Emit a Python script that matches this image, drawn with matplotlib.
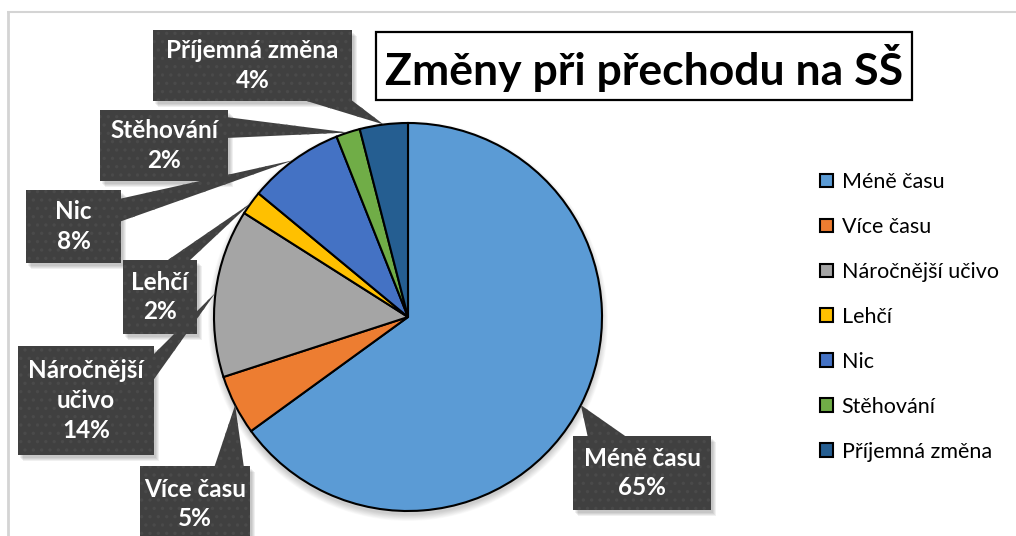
import matplotlib
matplotlib.use("Agg")
import matplotlib.pyplot as plt
import numpy as np
from matplotlib.patches import Rectangle, Polygon, Circle

# ---- data ----
categories = ["Méně času", "Více času", "Náročnější učivo", "Lehčí", "Nic", "Stěhování", "Příjemná změna"]
values = [65, 5, 14, 2, 8, 2, 4]
label_texts = ["Méně času\n65%", "Více času\n5%", "Náročnější\nučivo\n14%", "Lehčí\n2%", "Nic\n8%", "Stěhování\n2%", "Příjemná změna\n4%"]
colors = ["#5B9BD5", "#ED7D31", "#A5A5A5", "#FFC000", "#4472C4", "#70AD47", "#255E91"]
title = "Změny při přechodu na SŠ"

# ---- layout (pixel coordinates, y downwards) ----
W, H = 1016, 536
cx, cy, R = 408, 317, 194
boxes = [
    ((573, 436, 711, 510), ("top", 588, 628)),
    ((140, 466, 250, 545), ("top", 214, 244)),
    ((18, 346, 154, 455), ("right", 356, 382)),
    ((123, 260, 197, 334), ("top", 165, 188)),
    ((26, 190, 121, 263), ("right", 199, 222)),
    ((100, 110, 228, 181), ("right", 117, 138)),
    ((153, 30, 352, 101), ("bottom", 300, 350)),
]

font = ["Lato", "DejaVu Sans"]
plt.rcParams["hatch.linewidth"] = 1.2

fig = plt.figure(figsize=(W / 100, H / 100), dpi=100)
ax = fig.add_axes([0, 0, 1, 1])

# outer border lines
ax.plot([7.5, 7.5], [11, H], color="#d4d4d4", lw=2, solid_capstyle="butt")
ax.plot([7, W], [11.5, 11.5], color="#d4d4d4", lw=1.5, solid_capstyle="butt")

# pie shadow
for i in range(10):
    ax.add_patch(Circle((cx, cy + 4), R + 6 - i * 0.7, color="black", alpha=0.018, lw=0, zorder=1))

wedges, _ = ax.pie(values, colors=colors, startangle=-90, counterclock=True,
                   center=(cx, cy), radius=R, frame=True,
                   wedgeprops=dict(edgecolor="black", linewidth=1.5))
for w in wedges:
    w.set_zorder(3)
ax.set_xlim(0, W)
ax.set_ylim(H, 0)
ax.set_aspect("equal")
ax.axis("off")

# label callouts
total = sum(values)
cum = 0
for i, (v, txt, (bx, ptr)) in enumerate(zip(values, label_texts, boxes)):
    mid = (cum + v / 2) / total * 2 * np.pi
    cum += v
    tip = (cx + R * np.sin(mid), cy - R * np.cos(mid))
    x0, y0, x1, y1 = bx
    side, a, b = ptr
    if side == "top":
        base = [(a, y0 + 2), (b, y0 + 2)]
    elif side == "bottom":
        base = [(a, y1 - 2), (b, y1 - 2)]
    elif side == "right":
        base = [(x1 - 2, a), (x1 - 2, b)]
    else:
        base = [(x0 + 2, a), (x0 + 2, b)]
    for k in range(4):
        ax.add_patch(Rectangle((x0 + 2 + k, y0 + 3 + k), x1 - x0, y1 - y0,
                               color="black", alpha=0.06, lw=0, zorder=4))
    ax.add_patch(Polygon([base[0], tip, base[1]], closed=True, facecolor="#404040",
                         edgecolor="#4a4a4a", lw=0, hatch="..", zorder=5))
    ax.add_patch(Rectangle((x0, y0), x1 - x0, y1 - y0, facecolor="#404040",
                           edgecolor="#4a4a4a", lw=0, hatch="..", zorder=5))
    ty = (y0 + y1) / 2 if y1 <= H else y0 + 38
    ax.text((x0 + x1) / 2, ty, txt,
            ha="center", va="center", color="white", fontsize=17.5, fontweight="bold",
            family=font, linespacing=1.35, zorder=6)

# title box
ax.text((376 + 912) / 2, 68, title, ha="center", va="center", fontsize=32,
        fontweight="bold", family=font, color="black", zorder=7)
ax.add_patch(Rectangle((376, 32), 912 - 376, 100 - 32, facecolor="white",
                       edgecolor="black", lw=1.6, zorder=6.5))

# legend
leg = ax.legend(wedges, categories, loc="upper left", bbox_to_anchor=(820 / W, 1 - 172 / H),
                bbox_transform=fig.transFigure, frameon=False, prop={"family": font, "size": 15.5},
                handlelength=0.6, handleheight=0.6, handletextpad=0.4, labelspacing=1.16,
                borderpad=0, borderaxespad=0)

plt.savefig("out.png", dpi=100)
